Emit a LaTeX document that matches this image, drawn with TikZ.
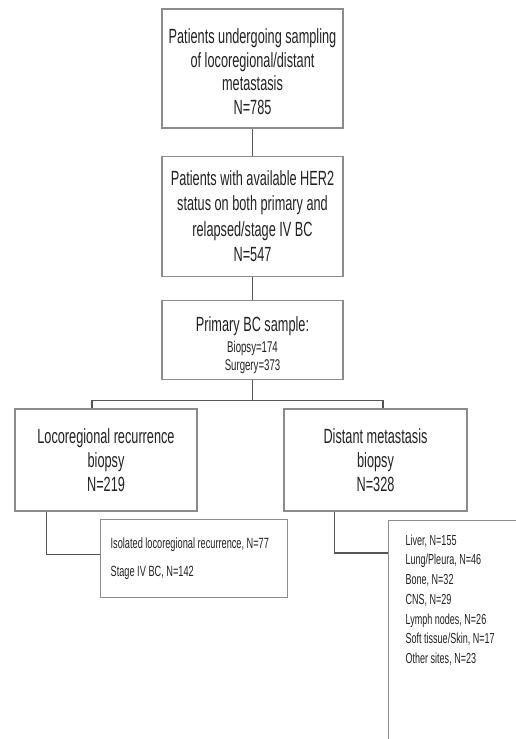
\documentclass[tikz,border=0pt]{standalone}
\usepackage{fontspec}
\setmainfont{Liberation Sans}[FakeStretch=0.62]
\usetikzlibrary{positioning}
\definecolor{boxgray}{HTML}{8C8C8C}
\definecolor{linkgray}{HTML}{555555}
\definecolor{textgray}{HTML}{222222}

\begin{document}
\begin{tikzpicture}[
  x=1bp, y=-1bp,
  font=\fontsize{20.6}{23.8}\selectfont,
  text=textgray,
  box/.style={draw=boxgray, line width=1.3bp, align=flush center, inner sep=2bp, minimum width=181bp},
  subbox/.style={draw=boxgray, line width=1.3bp, align=flush left, font=\fontsize{14.9}{29}\selectfont},
  link/.style={draw=linkgray, line width=1.4bp}
]
\useasboundingbox (0,0) rectangle (516,739);
\clip (0,0) rectangle (516,739);
\node[box, minimum height=119bp] (samp) at (252.5,68.5) {\rule{0pt}{21bp}Patients undergoing sampling\\of locoregional/distant\\metastasis\\N=785};
\node[box, minimum height=120bp, below=27bp of samp, font=\fontsize{20.6}{25.5}\selectfont] (her) {Patients with available HER2\\status on both primary and\\relapsed/stage IV BC\\N=547};
\node[box, minimum height=79bp, below=23bp of her, font=\fontsize{15.6}{18}\selectfont] (prim) {{\fontsize{20.6}{24}\selectfont\rule{0pt}{25bp}Primary BC sample:}\\[2.5bp]Biopsy=174\\Surgery=373};
\node[box, minimum width=182bp, minimum height=102bp] (loco) at (106,460) {Locoregional recurrence\\biopsy\\N=219};
\node[box, minimum width=183bp, minimum height=102bp] (dist) at (375.5,460) {Distant metastasis\\biopsy\\N=328};
\node[subbox, anchor=north west, text width=167bp, inner xsep=10bp, minimum height=78bp] (locosub) at (100,519) {Isolated locoregional recurrence, N=77\\Stage IV BC, N=142};
\node[subbox, anchor=north west, text width=110bp, inner xsep=17bp, inner ysep=14bp, text depth=200bp, font=\fontsize{14.6}{19.8}\selectfont] (sites) at (388,520) {Liver, N=155\\Lung/Pleura, N=46\\Bone, N=32\\CNS, N=29\\Lymph nodes, N=26\\Soft tissue/Skin, N=17\\Other sites, N=23};
% connectors
\draw[link] (samp) -- (her);
\draw[link] (her) -- (prim);
\draw[link] (prim.south) -- ++(0,20) coordinate (split);
\draw[link] ([xshift=-14bp]loco.north) |- (split) -| ([xshift=7.5bp]dist.north);
\draw[link] ([xshift=32bp]loco.south west) |- ([yshift=4bp]locosub.west);
\draw[link] ([xshift=51bp]dist.south west) |- ([yshift=-33bp]sites.north west);
\end{tikzpicture}
\end{document}
